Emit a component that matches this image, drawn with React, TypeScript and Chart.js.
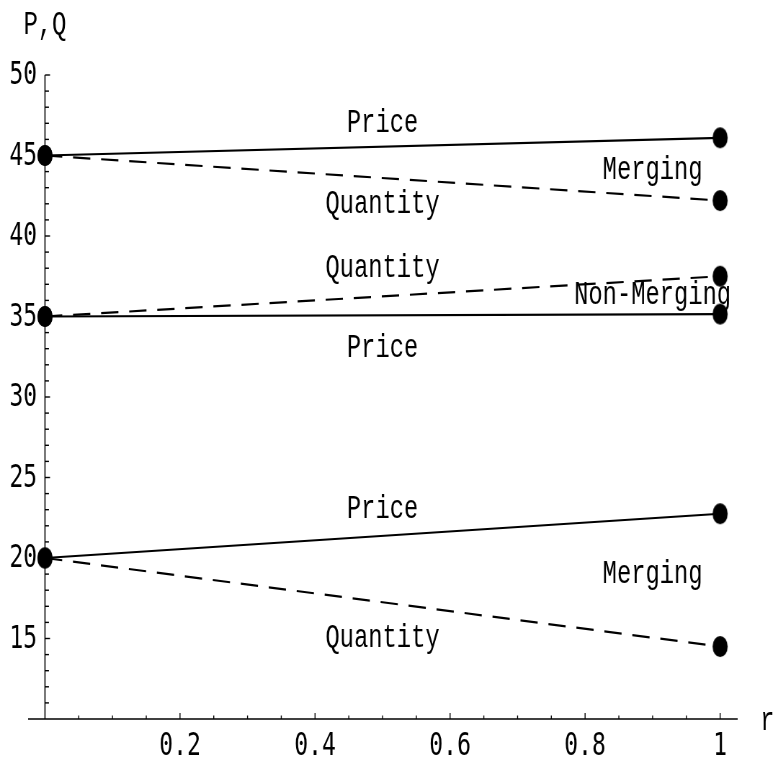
import React, { useEffect, useRef } from "react";
import { Chart, registerables } from "chart.js";

Chart.register(...registerables);

// ---- data ----
const rValues = [0, 1];
const mergingHighPrice = [45, 46.1];
const mergingHighQuantity = [45, 42.2];
const nonMergingQuantity = [35, 37.5];
const nonMergingPrice = [35, 35.15];
const mergingLowPrice = [20, 22.75];
const mergingLowQuantity = [20, 14.5];

const lineSeries = [
  { name: "Merging Price (high)", values: mergingHighPrice, dashed: false },
  { name: "Merging Quantity (high)", values: mergingHighQuantity, dashed: true },
  { name: "Non-Merging Quantity", values: nonMergingQuantity, dashed: true },
  { name: "Non-Merging Price", values: nonMergingPrice, dashed: false },
  { name: "Merging Price (low)", values: mergingLowPrice, dashed: false },
  { name: "Merging Quantity (low)", values: mergingLowQuantity, dashed: true },
];

// annotation labels (data coordinates)
const labelTexts = ["Price", "Merging", "Quantity", "Quantity", "Non-Merging", "Price", "Price", "Merging", "Quantity"];
const labelX = [0.5, 0.9, 0.5, 0.5, 0.9, 0.5, 0.5, 0.9, 0.5];
const labelY = [47, 44.1, 42, 38, 36.3, 33, 23, 19, 15];

// axes
const xMin = -0.025;
const xMax = 1.026;
const yMin = 10;
const yMax = 50;
const xTickValues = [0.2, 0.4, 0.6, 0.8, 1];
const xTickLabels = ["0.2", "0.4", "0.6", "0.8", "1"];
const yTickValues = [15, 20, 25, 30, 35, 40, 45, 50];
const yTickLabels = ["15", "20", "25", "30", "35", "40", "45", "50"];
const xMinorStep = 0.05;
const yMinorStep = 1;
const xAxisTitle = "r";
const yAxisTitle = "P,Q";

// rendering geometry (internal canvas is horizontally compressed on display)
const CSS_W = 778;
const CSS_H = 761;
const INT_W = 1080;
const INT_H = 761;

const LABEL_FONT = "33px 'Liberation Mono', 'DejaVu Sans Mono', monospace";
const TICK_FONT = "32px 'DejaVu Sans Mono', 'Liberation Mono', monospace";

function makeDotStyle(): HTMLCanvasElement {
  const c = document.createElement("canvas");
  const r = 10.5;
  c.width = Math.ceil(r * 2) + 2;
  c.height = Math.ceil(r * 2) + 2;
  const g = c.getContext("2d")!;
  g.fillStyle = "#000";
  g.beginPath();
  g.arc(c.width / 2, c.height / 2, r, 0, Math.PI * 2);
  g.fill();
  return c;
}

const axesPlugin = {
  id: "mathematicaAxes",
  beforeDatasetsDraw(chart: any) {
    const { ctx, scales } = chart;
    const xs = scales.x;
    const ys = scales.y;
    const x0 = xs.getPixelForValue(0);
    const y0 = ys.getPixelForValue(yMin);
    ctx.save();
    ctx.strokeStyle = "#000";
    ctx.lineWidth = 1.6;
    // x axis
    ctx.beginPath();
    ctx.moveTo(xs.getPixelForValue(xMin), y0);
    ctx.lineTo(xs.getPixelForValue(xMax), y0);
    ctx.stroke();
    // y axis
    ctx.beginPath();
    ctx.moveTo(x0, y0);
    ctx.lineTo(x0, ys.getPixelForValue(yMax));
    ctx.stroke();
    // x ticks (inward = up)
    ctx.lineWidth = 1.4;
    for (let v = xMinorStep; v <= 1.0001; v += xMinorStep) {
      const isMajor = xTickValues.some((t) => Math.abs(t - v) < 1e-6);
      const px = xs.getPixelForValue(v);
      ctx.beginPath();
      ctx.moveTo(px, y0);
      ctx.lineTo(px, y0 - (isMajor ? 6 : 3.5));
      ctx.stroke();
    }
    // y ticks (inward = right)
    for (let v = yMin + yMinorStep; v <= yMax + 1e-6; v += yMinorStep) {
      const isMajor = yTickValues.some((t) => Math.abs(t - v) < 1e-6);
      const py = ys.getPixelForValue(v);
      ctx.beginPath();
      ctx.moveTo(x0, py);
      ctx.lineTo(x0 + (isMajor ? 7 : 5.5), py);
      ctx.stroke();
    }
    // tick labels
    ctx.fillStyle = "#000";
    ctx.font = TICK_FONT;
    ctx.textAlign = "center";
    ctx.textBaseline = "alphabetic";
    xTickValues.forEach((v, i) => {
      ctx.fillText(xTickLabels[i], xs.getPixelForValue(v), y0 + 36);
    });
    ctx.textAlign = "right";
    ctx.textBaseline = "middle";
    yTickValues.forEach((v, i) => {
      ctx.fillText(yTickLabels[i], x0 - 11, ys.getPixelForValue(v) + 1);
    });
    // axis titles
    ctx.font = LABEL_FONT;
    ctx.textAlign = "center";
    ctx.textBaseline = "middle";
    ctx.fillText(yAxisTitle, x0, ys.getPixelForValue(yMax) - 50);
    ctx.fillText(xAxisTitle, xs.getPixelForValue(1.07), y0 + 2);
    ctx.restore();
  },
  afterDatasetsDraw(chart: any) {
    const { ctx, scales } = chart;
    ctx.save();
    ctx.fillStyle = "#000";
    ctx.font = LABEL_FONT;
    ctx.textAlign = "center";
    ctx.textBaseline = "middle";
    labelTexts.forEach((t, i) => {
      ctx.fillText(t, scales.x.getPixelForValue(labelX[i]), scales.y.getPixelForValue(labelY[i]));
    });
    ctx.restore();
  },
};

export default function App() {
  const canvasRef = useRef<HTMLCanvasElement | null>(null);

  useEffect(() => {
    const canvas = canvasRef.current;
    if (!canvas) return;
    const dot = makeDotStyle();
    const chart = new Chart(canvas, {
      type: "line",
      data: {
        datasets: lineSeries.map((s) => ({
          label: s.name,
          data: rValues.map((r, i) => ({ x: r, y: s.values[i] })),
          borderColor: "#000",
          backgroundColor: "#000",
          borderWidth: 2.2,
          borderDash: s.dashed ? [24, 15] : [],
          pointStyle: dot,
          pointRadius: 10,
          pointHoverRadius: 10,
          fill: false,
          tension: 0,
          clip: false,
        })),
      },
      options: {
        animation: false,
        responsive: false,
        devicePixelRatio: 1,
        events: [],
        layout: { padding: { left: 39, right: 56, top: 75, bottom: 42 } },
        plugins: { legend: { display: false }, tooltip: { enabled: false } },
        scales: {
          x: { type: "linear", min: xMin, max: xMax, display: false },
          y: { type: "linear", min: yMin, max: yMax, display: false },
        },
      },
      plugins: [axesPlugin],
    });
    return () => chart.destroy();
  }, []);

  return (
    <div style={{ position: "fixed", left: 0, top: 0, width: CSS_W, height: CSS_H, background: "#fff", overflow: "hidden" }}>
      <canvas
        ref={canvasRef}
        width={INT_W}
        height={INT_H}
        style={{ width: CSS_W + "px", height: CSS_H + "px", display: "block" }}
      />
    </div>
  );
}
